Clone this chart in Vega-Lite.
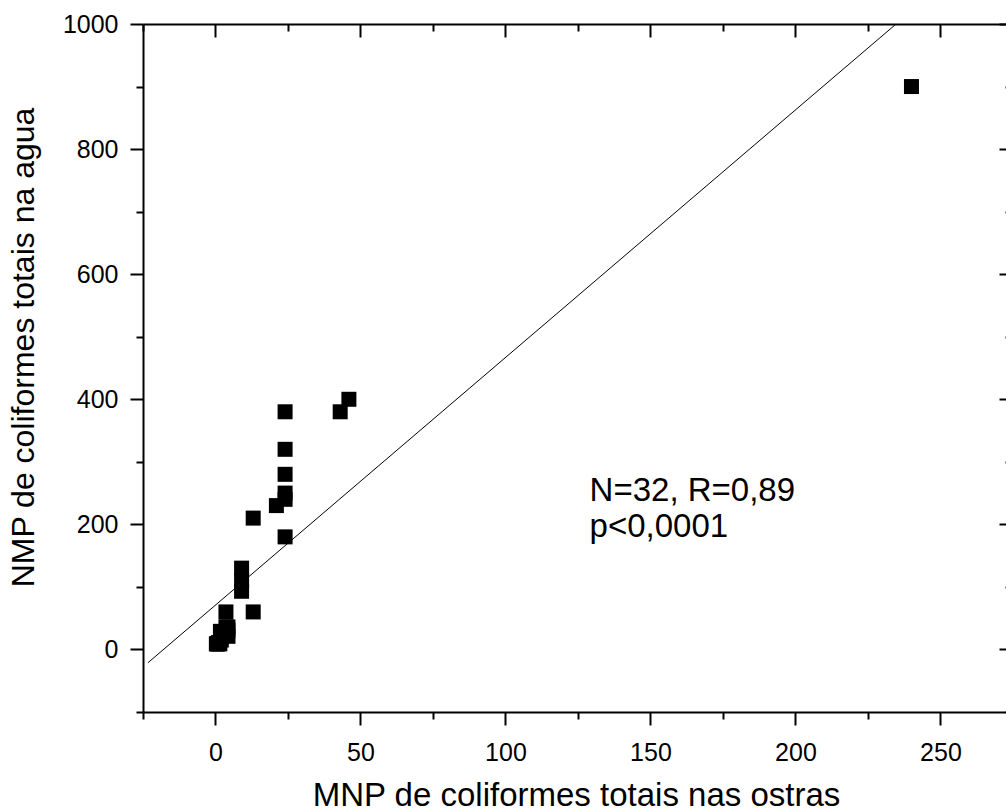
{
  "$schema": "https://vega.github.io/schema/vega-lite/v6.json",
  "autosize": "none",
  "width": 863,
  "height": 688,
  "padding": {"left": 143, "top": 24, "right": 0, "bottom": 100},
  "background": "white",
  "config": {
    "view": {"stroke": null},
    "font": "Liberation Sans",
    "axis": {
      "grid": false,
      "domainColor": "black",
      "tickColor": "black",
      "domainWidth": 2,
      "tickWidth": 2,
      "labelColor": "black",
      "titleColor": "black",
      "labelFont": "Liberation Sans",
      "titleFont": "Liberation Sans",
      "labelFontSize": 25,
      "titleFontSize": 33,
      "titleFontWeight": "normal"
    }
  },
  "resolve": {"axis": {"x": "independent", "y": "independent"}},
  "layer": [
    {
      "data": {"values": [
        {"x": 240, "y": 900}, {"x": 46, "y": 400}, {"x": 43, "y": 380}, {"x": 24, "y": 380},
        {"x": 24, "y": 320}, {"x": 24, "y": 280}, {"x": 24, "y": 250}, {"x": 24, "y": 240},
        {"x": 21, "y": 230}, {"x": 13, "y": 210}, {"x": 24, "y": 180}, {"x": 9, "y": 130},
        {"x": 9, "y": 110}, {"x": 9, "y": 93}, {"x": 3.6, "y": 60}, {"x": 13, "y": 60},
        {"x": 4.3, "y": 36}, {"x": 4.3, "y": 30}, {"x": 1.7, "y": 29}, {"x": 4.3, "y": 21},
        {"x": 2, "y": 20}, {"x": 0.8, "y": 9}, {"x": 0.5, "y": 9}, {"x": 1.5, "y": 9},
        {"x": 2, "y": 15}, {"x": 3, "y": 23}, {"x": 4, "y": 23}, {"x": 0.3, "y": 9},
        {"x": 1, "y": 11}, {"x": 2.5, "y": 28}, {"x": 3.6, "y": 36}, {"x": 0.9, "y": 9.1}
      ]},
      "mark": {"type": "square", "size": 225, "color": "black", "opacity": 1, "filled": true},
      "encoding": {
        "x": {
          "field": "x", "type": "quantitative",
          "scale": {"domain": [-25, 272.6], "nice": false, "zero": false},
          "axis": {
            "orient": "bottom",
            "values": [-25, 0, 25, 50, 75, 100, 125, 150, 175, 200, 225, 250],
            "format": "d",
            "tickSize": {"condition": {"test": "datum.value % 50 !== 0", "value": 7}, "value": 13},
            "labelExpr": "datum.value % 50 === 0 ? datum.label : ''",
            "labelPadding": 15,
            "title": "MNP de coliformes totais nas ostras",
            "titleX": 433,
            "titleY": 93,
            "titleAnchor": "middle",
            "titleAlign": "center",
            "titleBaseline": "alphabetic"
          }
        },
        "y": {
          "field": "y", "type": "quantitative",
          "scale": {"domain": [-100, 1000], "nice": false, "zero": false},
          "axis": {
            "orient": "left",
            "values": [-100, 0, 100, 200, 300, 400, 500, 600, 700, 800, 900, 1000],
            "format": "d",
            "tickSize": {"condition": {"test": "datum.value % 200 !== 0", "value": 7}, "value": 13},
            "labelExpr": "datum.value % 200 === 0 ? datum.label : ''",
            "labelPadding": 12,
            "title": "NMP de coliformes totais na agua",
            "titleFontSize": 32,
            "titleAngle": -90,
            "titleX": -110,
            "titleY": 323,
            "titleAlign": "center",
            "titleBaseline": "alphabetic"
          }
        }
      }
    },
    {
      "data": {"values": [{"x": -23.3, "y": -21.3}, {"x": 234.7, "y": 1000}]},
      "mark": {"type": "line", "color": "black", "strokeWidth": 1, "clip": true},
      "encoding": {
        "x": {
          "field": "x", "type": "quantitative",
          "axis": {
            "orient": "top",
            "values": [-25, 0, 25, 50, 75, 100, 125, 150, 175, 200, 225, 250],
            "tickSize": {"condition": {"test": "datum.value % 50 !== 0", "value": -7}, "value": -13},
            "labels": false,
            "title": null
          }
        },
        "y": {
          "field": "y", "type": "quantitative",
          "axis": {
            "orient": "right",
            "domain": false,
            "values": [-100, 0, 100, 200, 300, 400, 500, 600, 700, 800, 900, 1000],
            "tickSize": {"condition": {"test": "datum.value % 200 !== 0", "value": -1}, "value": -7},
            "labels": false,
            "title": null
          }
        }
      }
    },
    {
      "data": {"values": [
        {"x": 129, "y": 238, "t": "N=32, R=0,89"},
        {"x": 129, "y": 180, "t": "p<0,0001"}
      ]},
      "mark": {"type": "text", "align": "left", "baseline": "alphabetic", "fontSize": 33, "font": "Liberation Sans", "color": "black"},
      "encoding": {
        "x": {"field": "x", "type": "quantitative", "axis": null},
        "y": {"field": "y", "type": "quantitative", "axis": null},
        "text": {"field": "t"}
      }
    }
  ]
}
